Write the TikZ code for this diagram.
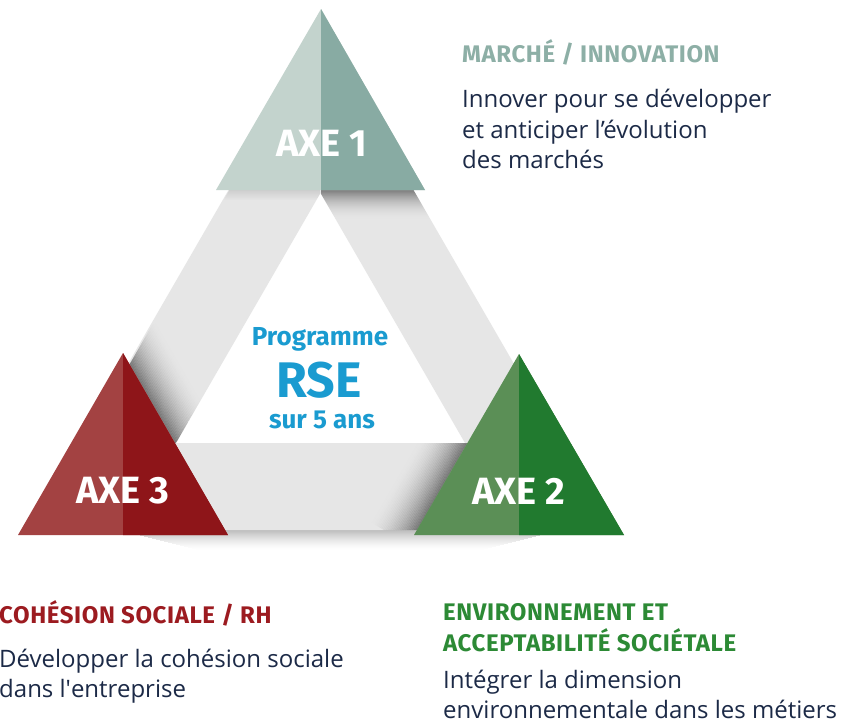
\documentclass[tikz,border=0pt]{standalone}
\usepackage{fontspec}
\setmainfont{Open Sans}
\newfontfamily\titlefont{Fira Sans}
\newfontfamily\titlewide{Fira Sans}[LetterSpace=2.5]
\newfontfamily\plainbody{Open Sans}[Ligatures=TeXOff]
\definecolor{tealL}{HTML}{C3D3CD}
\definecolor{tealD}{HTML}{88ABA3}
\definecolor{redL}{HTML}{A34242}
\definecolor{redD}{HTML}{8E1519}
\definecolor{grnL}{HTML}{5B8F56}
\definecolor{grnD}{HTML}{217A2F}
\definecolor{bandc}{HTML}{E6E6E6}
\definecolor{navy}{HTML}{1C2A47}
\definecolor{rseblue}{HTML}{1A9BD0}
\definecolor{tone}{HTML}{8DAFA6}
\definecolor{tthree}{HTML}{9C1B20}
\definecolor{ttwo}{HTML}{2C8A35}
\begin{document}
\begin{tikzpicture}[x=1pt,y=-1pt,
  bodytext/.style={anchor=base west,inner sep=0pt,font=\fontsize{24}{31}\selectfont,text=navy},
  titletext/.style={anchor=base west,inner sep=0pt,font=\titlewide\bfseries\fontsize{24}{30}\selectfont},
  axetext/.style={inner sep=0pt,text=white,font=\titlefont\bfseries\fontsize{38}{40}\selectfont},
  centretext/.style={anchor=base,inner sep=0pt,text=rseblue}]
\useasboundingbox (0,0) rectangle (846,726);
\fill[white] (0,0) rectangle (846,726);
% frame coordinates
\coordinate (OA) at (321,30);
\coordinate (OL) at (32,530);
\coordinate (OR) at (610,530);
\coordinate (IA) at (320.5,193);
\coordinate (IL) at (176,443);
\coordinate (IR) at (465,443);
\coordinate (LB) at (84.5,443);
\coordinate (RB) at (557.5,443);
% soft shadow below the frame
\foreach \i [evaluate=\i as \op using {0.26*(1-\i/20)^1.5}] in {0,...,19}{
  \fill[black,opacity=\op] (120+4*\i,530+\i) rectangle (560-4*\i,531+\i);
}
% grey frame
\fill[bandc,even odd rule] (OA)--(OL)--(OR)--cycle (IA)--(IL)--(IR)--cycle;
% shading of right ribbon below axe 1
\begin{scope}
  \clip (OA)--(OR)--(IR)--(IA)--cycle;
  \clip (321,0) rectangle (846,300);
  \foreach \i [evaluate=\i as \op using {0.45*(1-\i/30)^2}] in {0,...,29}{
    \fill[black,opacity=\op] (300,190+\i) rectangle (460,191+\i);
  }
\end{scope}
\begin{scope}
  \clip (OA)--(IA)--(IL)--(LB)--cycle;
  \foreach \i [evaluate=\i as \op using {0.10*(1-\i/10)}] in {0,...,9}{
    \fill[black,opacity=\op] (200,190+\i) rectangle (321,191+\i);
  }
\end{scope}
% shading of left ribbon beside axe 3
\begin{scope}
  \clip (OA)--(IA)--(IL)--(LB)--cycle;
  \begin{scope}[shift={(123,353)},rotate=-60]
    \foreach \i [evaluate=\i as \op using {0.45*(1-\i/30)^2}] in {0,...,29}{
      \fill[black,opacity=\op] (-10,-1.5*\i) rectangle (220,-1.5*\i-1.5);
    }
  \end{scope}
\end{scope}
% shading of bottom ribbon beside axe 2
\begin{scope}
  \clip (LB)--(RB)--(OR)--(OL)--cycle;
  \begin{scope}[shift={(519,354)},rotate=-120]
    \foreach \i [evaluate=\i as \op using {0.45*(1-\i/30)^2}] in {0,...,29}{
      \fill[black,opacity=\op] (-10,1.5*\i) rectangle (220,1.5*\i+1.5);
    }
  \end{scope}
\end{scope}
% triangles
\coordinate (A1) at (321,9);   \coordinate (A1l) at (216,190); \coordinate (A1r) at (425,190); \coordinate (A1m) at (321,190);
\coordinate (A3) at (123,353); \coordinate (A3l) at (18,535);  \coordinate (A3r) at (228,535); \coordinate (A3m) at (123,535);
\coordinate (A2) at (519,354); \coordinate (A2l) at (414,535); \coordinate (A2r) at (624,535); \coordinate (A2m) at (519,535);
\fill[tealL] (A1)--(A1l)--(A1r)--cycle;
\fill[tealD] (A1)--(A1m)--(A1r)--cycle;
\fill[redL] (A3)--(A3l)--(A3r)--cycle;
\fill[redD] (A3)--(A3m)--(A3r)--cycle;
\fill[grnL] (A2)--(A2l)--(A2r)--cycle;
\fill[grnD] (A2)--(A2m)--(A2r)--cycle;
\node[axetext] (ax1) at (322,143) {AXE 1};
\node[axetext] (ax3) at (123,491) {AXE 3};
\node[axetext] (ax2) at (519,491) {AXE 2};
% centre
\node[centretext,font=\titlefont\bfseries\fontsize{26}{26}\selectfont] (prog) at (320,345) {Programme};
\node[centretext,font=\titlefont\bfseries\fontsize{50}{50}\selectfont] (rse) at (319,397) {RSE};
\node[centretext,font=\titlefont\bfseries\fontsize{26}{26}\selectfont] (sur) at (322,428) {sur 5 ans};
% axe 1 texts
\node[titletext,text=tone] (t1) at (462,62) {MARCHÉ / INNOVATION};
\node[bodytext] (b1a) at (462,107) {Innover pour se développer};
\node[bodytext] (b1b) at (462,138) {et anticiper l’évolution};
\node[bodytext] (b1c) at (462,168) {des marchés};
% axe 3 texts
\node[titletext,text=tthree] (t3) at (-1,623) {COHÉSION SOCIALE / RH};
\node[bodytext] (b3a) at (-1,667) {Développer la cohésion sociale};
\node[bodytext] (b3b) at (-1,697) {dans l{\plainbody'}entreprise};
% axe 2 texts
\node[titletext,text=ttwo] (t2a) at (443,620) {ENVIRONNEMENT ET};
\node[titletext,text=ttwo] (t2b) at (443,651) {ACCEPTABILITÉ SOCIÉTALE};
\node[bodytext] (b2a) at (443,688) {Intégrer la dimension};
\node[bodytext] (b2b) at (443,718) {environnementale dans les métiers};
\end{tikzpicture}
\end{document}
